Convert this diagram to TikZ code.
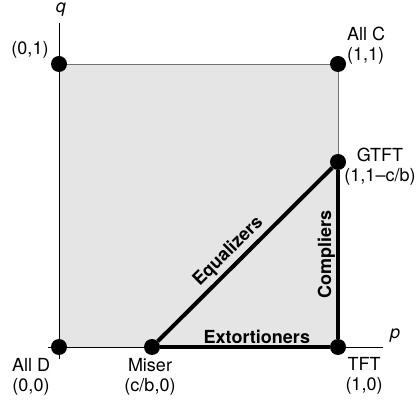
\documentclass[tikz,border=0pt]{standalone}
\usepackage{fontspec}
\setmainfont{TeX Gyre Heros}
\usetikzlibrary{positioning}

\begin{document}
\begin{tikzpicture}[
  x=1pt, y=1pt,
  font=\fontsize{18}{20}\selectfont,
  dot/.style={circle, fill=black, inner sep=0pt, minimum size=16pt},
  lbl/.style={align=center, inner sep=0pt},
  axis/.style={line width=0.9pt},
  border/.style={draw=black!55, line width=0.6pt},
  edge/.style={line width=4pt},
  zone/.style={font=\fontsize{18}{20}\selectfont\bfseries, inner sep=1pt}
]
  \useasboundingbox (0,0) rectangle (417,401);

  % shaded strategy square
  \fill[black!10] (59,54) rectangle (338,337);
  \draw[border] (59,337) -- (338,337) -- (338,54);

  % axes
  \coordinate (pstart) at (48,54);
  \coordinate (pend) at (383,54);
  \coordinate (qstart) at (59,42);
  \coordinate (qend) at (59,378);
  \draw[axis] (pstart) -- (pend);
  \draw[axis] (qstart) -- (qend);
  \node[inner sep=0pt] (plabel) at (395,65) {\itshape p};
  \node[inner sep=0pt] (qlabel) at (61,391) {\itshape q};

  % corner and special strategies
  \node[dot] (alld) at (59,54) {};
  \node[dot] (allc) at (338,337) {};
  \node[dot] (zeroone) at (59,337) {};
  \node[dot] (miser) at (152,54) {};
  \node[dot] (tft) at (338,54) {};
  \node[dot] (gtft) at (338,239) {};

  % thick boundary of the triangle
  \draw[edge] (miser) -- node[zone, pos=0.57, above] {Extortioners} (tft);
  \draw[edge] (tft) -- node[zone, midway, above, sloped] {Compliers} (gtft);
  \draw[edge] (miser) -- node[zone, pos=0.46, above=2pt, sloped] {Equalizers} (gtft);

  % point labels
  \node[lbl] (alldlabel) at (31,24) {All D\\(0,0)};
  \node[lbl] (miserlabel) at (150,24) {Miser\\(c/b,0)};
  \node[lbl] (tftlabel) at (364,25) {TFT\\(1,0)};
  \node[lbl, align=left, anchor=west] (allclabel) at (347,355) {All C\\(1,1)};
  \node[lbl] (gtftlabel) at (380,234) {GTFT\\(1,1--c/b)};
  \node[lbl] (zeroonelabel) at (30,351) {(0,1)};
\end{tikzpicture}
\end{document}
